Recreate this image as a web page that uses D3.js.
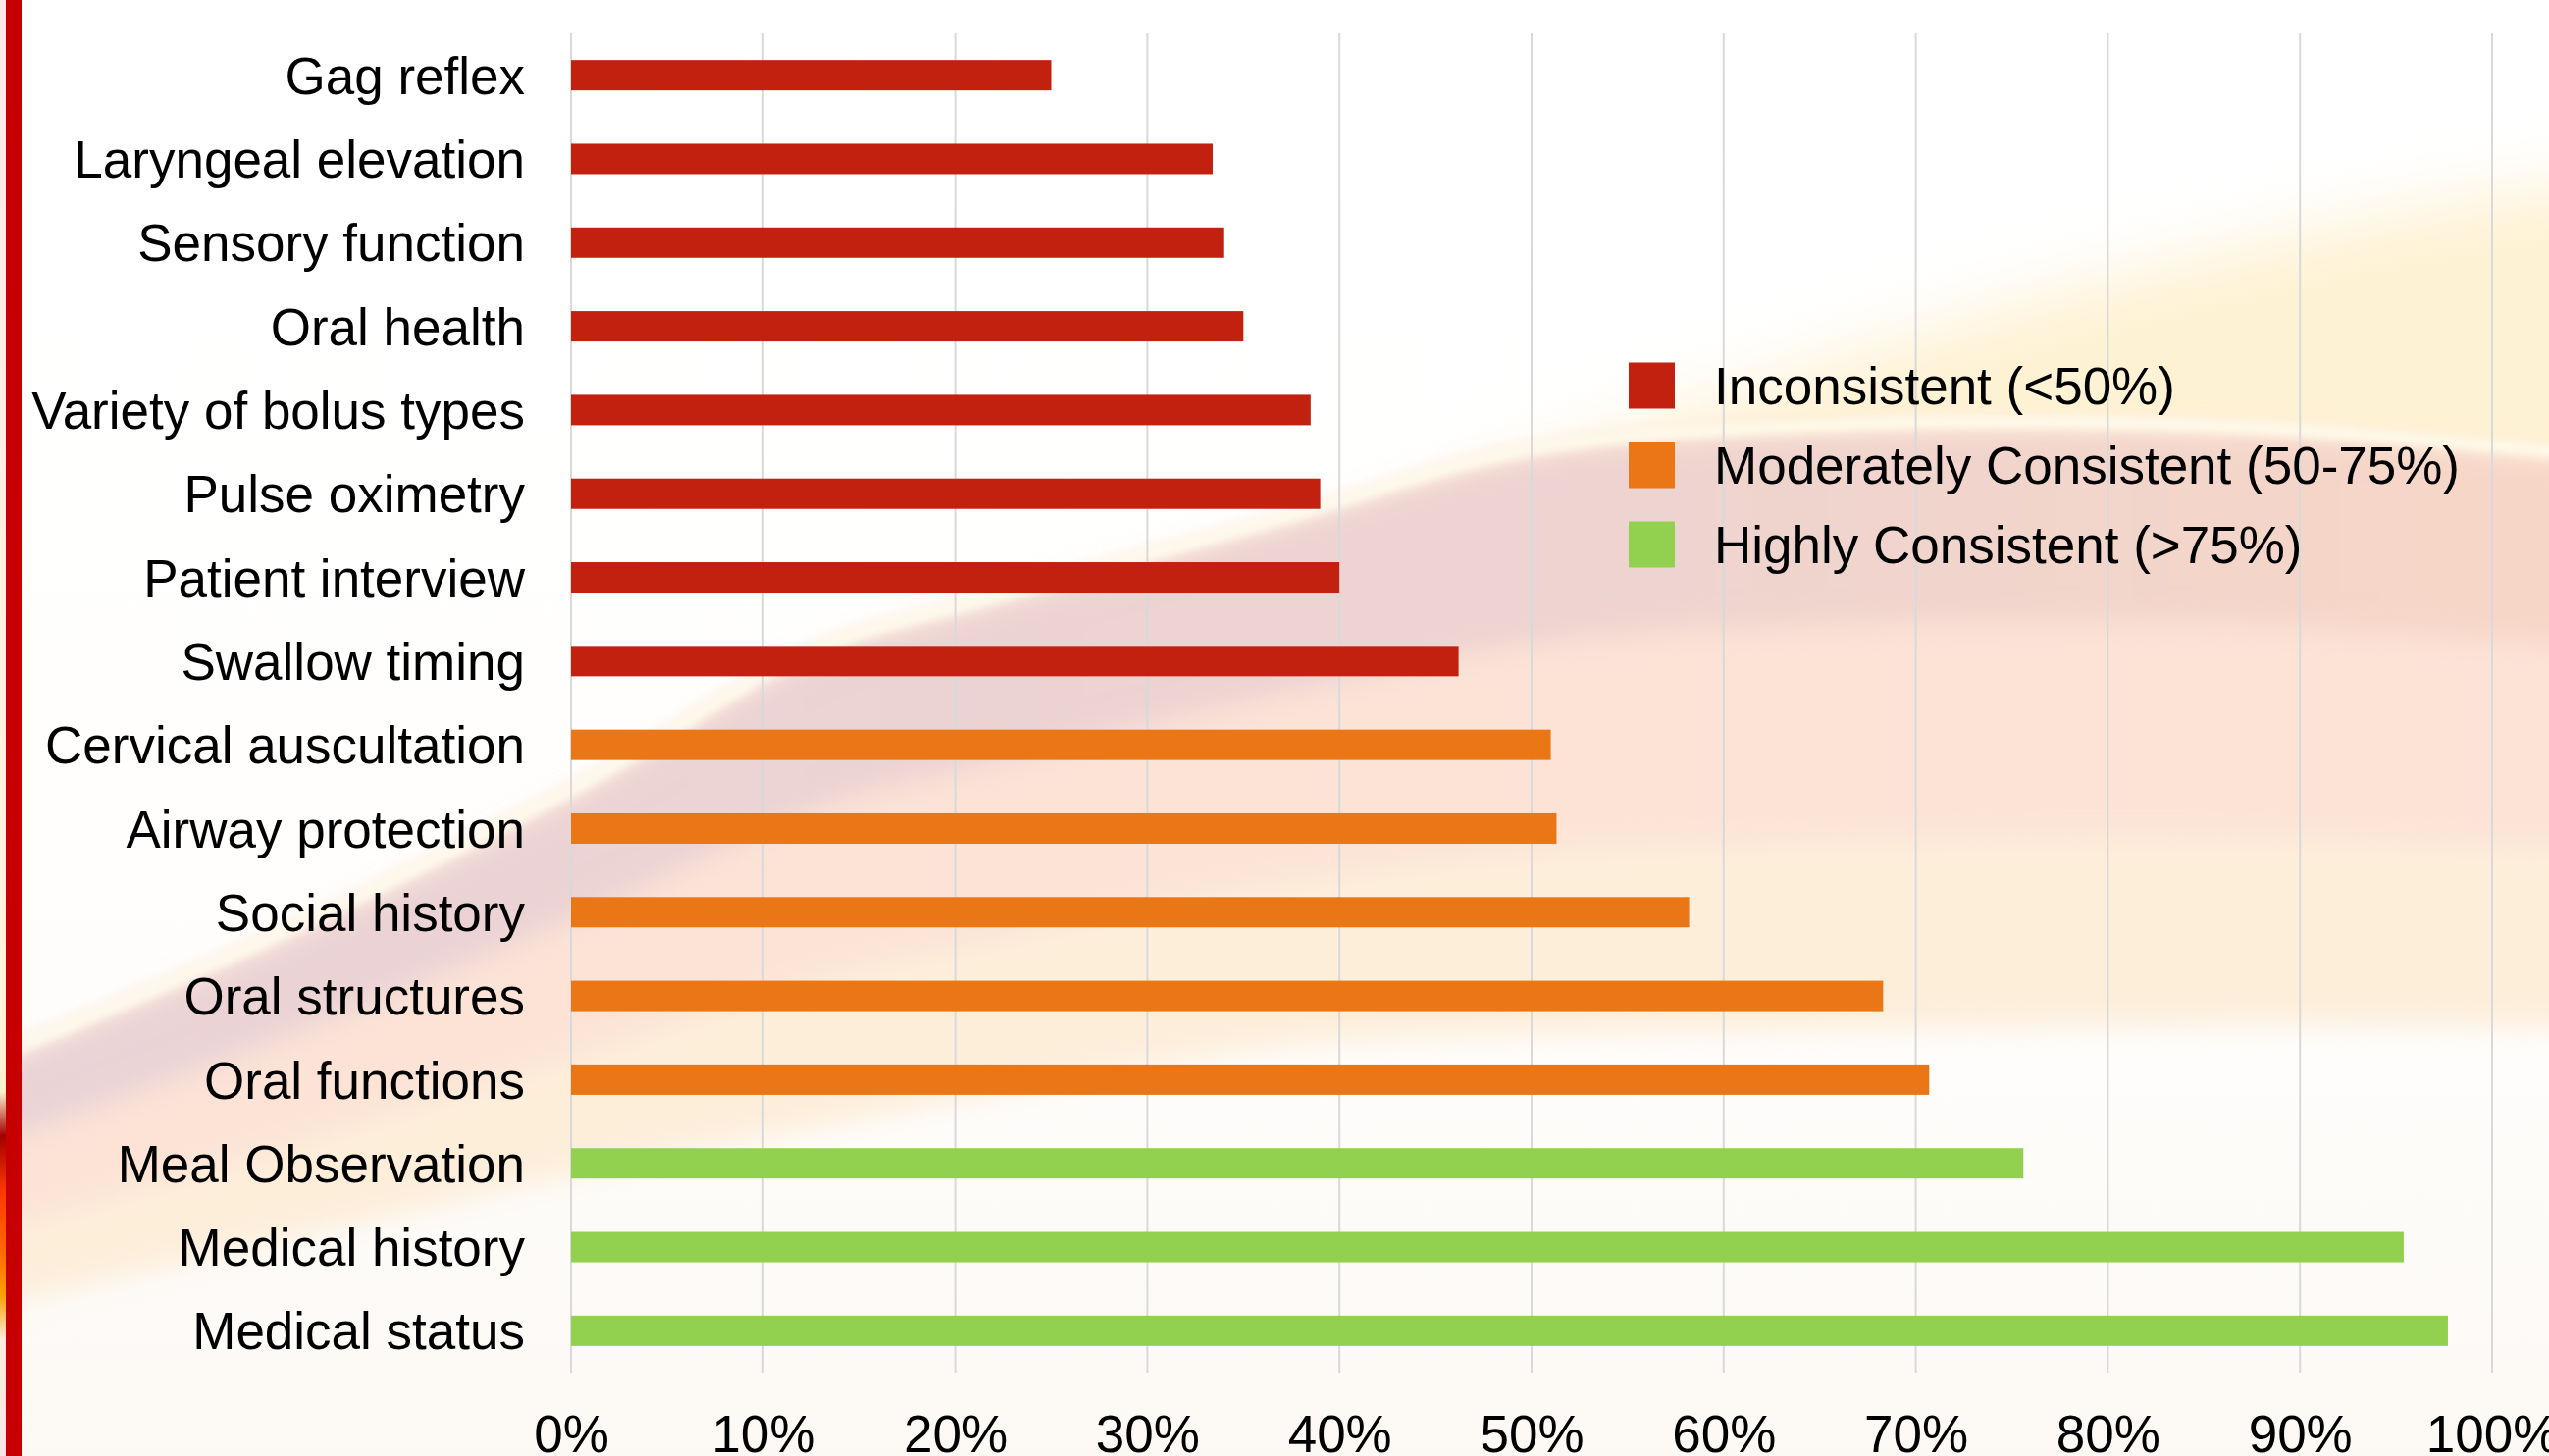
<!DOCTYPE html>
<html>
<head>
<meta charset="utf-8">
<script src="https://cdn.jsdelivr.net/npm/d3@7/dist/d3.min.js"></script>
<style>
  html, body { margin: 0; padding: 0; background: #ffffff; overflow: hidden; }
  svg { display: block; }
  text { font-family: "Liberation Sans", Arial, sans-serif; fill: #000; }
</style>
</head>
<body>
<svg id="chart" width="2598" height="1484"></svg>
<script>
// Assessment components, listed top to bottom
const categories = [
  "Gag reflex", "Laryngeal elevation", "Sensory function", "Oral health",
  "Variety of bolus types", "Pulse oximetry", "Patient interview", "Swallow timing",
  "Cervical auscultation", "Airway protection", "Social history", "Oral structures",
  "Oral functions", "Meal Observation", "Medical history", "Medical status"
];
// Share of clinicians reporting each component (%)
const values = [25.0, 33.4, 34.0, 35.0, 38.5, 39.0, 40.0, 46.2,
                51.0, 51.3, 58.2, 68.3, 70.7, 75.6, 95.4, 97.7];
const tickValues = [0, 10, 20, 30, 40, 50, 60, 70, 80, 90, 100];
const legendLabels = ["Inconsistent (<50%)", "Moderately Consistent (50-75%)", "Highly Consistent (>75%)"];
const legendColors = ["#c32110", "#ea7615", "#92d050"];

const W = 2598, H = 1484;
const svg = d3.select("#chart");
const defs = svg.append("defs");

// ---------- decorative backdrop ----------
const blur = (id, sd) => defs.append("filter").attr("id", id)
  .attr("x", "-20%").attr("y", "-20%").attr("width", "140%").attr("height", "140%")
  .append("feGaussianBlur").attr("stdDeviation", sd);
blur("soft", 14);
blur("softer", 34);
blur("thin", 5);

const bgGrad = defs.append("linearGradient").attr("id", "bgGrad")
  .attr("x1", 0).attr("y1", 0).attr("x2", 0).attr("y2", 1);
bgGrad.append("stop").attr("offset", "0").attr("stop-color", "#ffffff");
bgGrad.append("stop").attr("offset", "0.6").attr("stop-color", "#fffefd");
bgGrad.append("stop").attr("offset", "1").attr("stop-color", "#fcf9f5");

const bg = svg.append("g");
bg.append("rect").attr("width", W).attr("height", H).attr("fill", "url(#bgGrad)");

// upper band of the swoosh and its lower boundary
const edgeX   = [0,    300, 600, 830, 1000, 1300, 1560, 1900, 2300, 2598, 2700];
const edgeTop = [1085, 955, 805, 672, 622,  540,  468,  442,  446,  470,  480];
const edgeBot = [1330, 1262, 1195, 1150, 1118, 1068, 1055, 1050, 1045, 1048, 1048];
const curve = d3.line().curve(d3.curveCatmullRom);
function band(t0, t1) {
  const top = edgeX.map((x, i) => [x, edgeTop[i] + t0 * (edgeBot[i] - edgeTop[i])]);
  const bot = edgeX.map((x, i) => [x, edgeTop[i] + t1 * (edgeBot[i] - edgeTop[i])]).reverse();
  return curve(top) + "L" + curve(bot).slice(1) + "Z";
}

// warm glow in the upper right
bg.append("path")
  .attr("d", "M1450,520 C1700,420 1950,330 2250,260 C2420,220 2540,195 2700,180 L2700,720 L1450,720 Z")
  .attr("fill", "#fef2d4").attr("filter", "url(#softer)");

const mauveGrad = defs.append("linearGradient").attr("id", "mauveGrad")
  .attr("gradientUnits", "userSpaceOnUse").attr("x1", 0).attr("y1", 0).attr("x2", W).attr("y2", 0);
mauveGrad.append("stop").attr("offset", "0").attr("stop-color", "#ead3d6");
mauveGrad.append("stop").attr("offset", "0.6").attr("stop-color", "#edd3d1");
mauveGrad.append("stop").attr("offset", "1").attr("stop-color", "#f6d6c6");

bg.append("path").attr("d", band(0, 1)).attr("fill", "#fdeeda").attr("filter", "url(#soft)");
bg.append("path").attr("d", band(0, 0.68)).attr("fill", "#fce3d6").attr("filter", "url(#soft)");
bg.append("path").attr("d", band(0, 0.32)).attr("fill", "url(#mauveGrad)").attr("filter", "url(#soft)");
// pale highlight along the crest
bg.append("path")
  .attr("d", curve(edgeX.map((x, i) => [x, edgeTop[i] - 10])))
  .attr("fill", "none").attr("stroke", "#fffbec").attr("stroke-width", 12).attr("filter", "url(#thin)");

// left border strip
const stripGrad = defs.append("linearGradient").attr("id", "stripGrad")
  .attr("x1", 0).attr("y1", 0).attr("x2", 0).attr("y2", 1);
[[0, "#fbeaea"], [0.68, "#fff6dc"], [0.75, "#fff2cc"], [0.78, "#a30000"],
 [0.82, "#ff3a00"], [0.86, "#ff6a00"], [0.89, "#ffa000"], [0.92, "#fdeede"], [1, "#fbe6e6"]]
  .forEach(([o, c]) => stripGrad.append("stop").attr("offset", o).attr("stop-color", c));
bg.append("rect").attr("x", 0).attr("y", 0).attr("width", 6).attr("height", H).attr("fill", "url(#stripGrad)");
bg.append("rect").attr("x", 6).attr("y", 0).attr("width", 16).attr("height", H).attr("fill", "#c60000");

// ---------- chart ----------
const x = d3.scaleLinear().domain([0, 100]).range([582, 2540]);
const y = d3.scaleBand().domain(categories).range([34, 1399])
  .paddingInner(0.6366).paddingOuter(0.3183);
const color = v => v < 50 ? legendColors[0] : (v <= 75 ? legendColors[1] : legendColors[2]);

// vertical gridlines
svg.append("g").selectAll("line").data(tickValues).join("line")
  .attr("x1", d => x(d)).attr("x2", d => x(d))
  .attr("y1", 34).attr("y2", 1399)
  .attr("stroke", "#d9d9d9").attr("stroke-width", 2);

// bars
svg.append("g").selectAll("rect").data(categories).join("rect")
  .attr("x", x(0))
  .attr("y", d => y(d))
  .attr("width", (d, i) => x(values[i]) - x(0))
  .attr("height", y.bandwidth())
  .attr("fill", (d, i) => color(values[i]));

// category axis
const yAxis = svg.append("g").attr("transform", `translate(${x(0)},0)`)
  .call(d3.axisLeft(y).tickSize(0).tickPadding(47));
yAxis.select(".domain").remove();
yAxis.selectAll("text")
  .attr("font-size", 53).attr("dy", "0.36em")
  .style("font-family", "'Liberation Sans', Arial, sans-serif").attr("fill", "#000");

// value axis
const xAxis = svg.append("g").attr("transform", "translate(0,1399)")
  .call(d3.axisBottom(x).tickValues(tickValues).tickSize(0).tickPadding(43).tickFormat(d => d + "%"));
xAxis.select(".domain").remove();
xAxis.selectAll("text")
  .attr("font-size", 53)
  .style("font-family", "'Liberation Sans', Arial, sans-serif").attr("fill", "#000");

// legend
const legend = svg.append("g").attr("transform", "translate(1660,393)");
const rows = legend.selectAll("g").data(legendLabels).join("g")
  .attr("transform", (d, i) => `translate(0,${i * 81})`);
rows.append("rect").attr("x", 0).attr("y", -23.5).attr("width", 47).attr("height", 47)
  .attr("fill", (d, i) => legendColors[i]);
rows.append("text").attr("x", 87).attr("y", 0).attr("dy", "0.36em")
  .attr("font-size", 53).text(d => d);
</script>
</body>
</html>
